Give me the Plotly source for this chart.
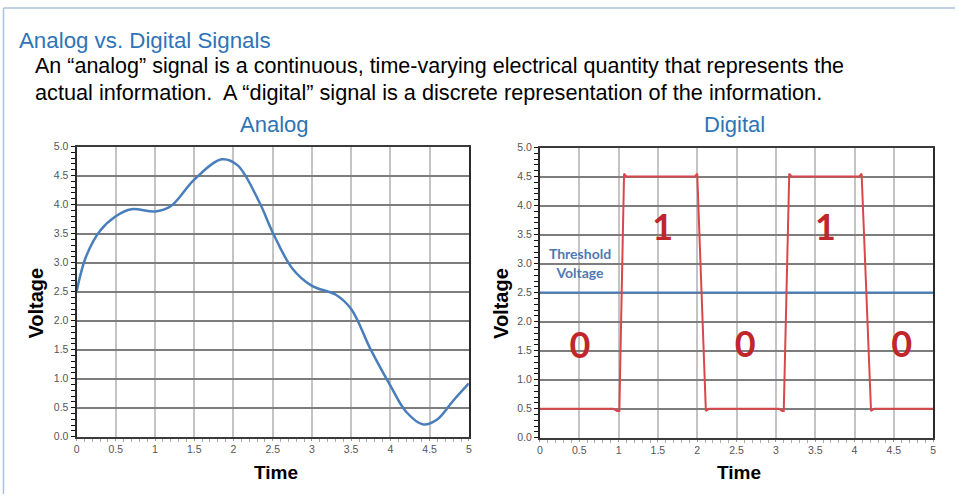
import plotly.graph_objects as go

# ---- data ----
analog_t = [0, 0.12, 0.3, 0.5, 0.7, 1.0, 1.2, 1.5, 1.85, 2.05, 2.33, 2.5, 2.75, 3.0, 3.3, 3.5, 3.75, 4.0, 4.2, 4.42, 4.6, 4.8, 5.0]
analog_v = [2.5, 3.1, 3.55, 3.8, 3.92, 3.88, 3.97, 4.43, 4.78, 4.68, 4.04, 3.52, 2.9, 2.6, 2.45, 2.2, 1.5, 0.88, 0.43, 0.21, 0.3, 0.62, 0.92]

digital_t = [0, 0.93, 0.98, 1.01, 1.07, 1.10, 1.97, 2.0, 2.11, 2.15, 3.04, 3.08, 3.10, 3.17, 3.20, 4.06, 4.09, 4.21, 4.25, 5.0]
digital_v = [0.5, 0.5, 0.46, 0.46, 4.55, 4.5, 4.5, 4.55, 0.46, 0.5, 0.5, 0.46, 0.46, 4.55, 4.5, 4.5, 4.55, 0.46, 0.5, 0.5]

threshold_t = [0, 5]
threshold_v = [2.5, 2.5]

bit_labels = ["0", "1", "0", "1", "0"]
bit_t = [0.51, 1.56, 2.61, 3.63, 4.6]
bit_v = [1.53, 3.57, 1.55, 3.57, 1.55]

threshold_label = ["Threshold", "Voltage"]
threshold_label_t = [0.51, 0.51]
threshold_label_v = [3.14, 2.82]

title_text = "Analog vs. Digital Signals"
body_lines = [
    "An \u201canalog\u201d signal is a continuous, time-varying electrical quantity that represents the",
    "actual information.  A \u201cdigital\u201d signal is a discrete representation of the information.",
]
W, H = 958, 500
# empirical correction from target picture pixels to page pixels
AX, SX, AY, SY = 3.5, 0.993, 6.0, 0.979

fig = go.Figure()
fig.add_trace(go.Scatter(x=analog_t, y=analog_v, mode="lines",
                         line=dict(color="#4a7ebb", width=2.5, shape="spline", smoothing=1.0),
                         xaxis="x", yaxis="y", showlegend=False, hoverinfo="skip"))
fig.add_trace(go.Scatter(x=threshold_t, y=threshold_v, mode="lines", line=dict(color="#4a7ebb", width=2),
                         xaxis="x2", yaxis="y2", showlegend=False, hoverinfo="skip"))
fig.add_trace(go.Scatter(x=digital_t, y=digital_v, mode="lines", line=dict(color="#d9474a", width=2),
                         xaxis="x2", yaxis="y2", showlegend=False, hoverinfo="skip"))
fig.add_trace(go.Scatter(x=bit_t, y=bit_v, mode="text", text=bit_labels,
                         textfont=dict(family="Lato", size=36, color="#c0262b", weight="bold"),
                         xaxis="x2", yaxis="y2", showlegend=False, hoverinfo="skip"))
fig.add_trace(go.Scatter(x=threshold_label_t, y=threshold_label_v, mode="text", text=threshold_label,
                         textfont=dict(family="Lato", size=14, color="#4f79b4", weight="bold"),
                         xaxis="x2", yaxis="y2", showlegend=False, hoverinfo="skip"))

def px(x):
    return min(max(((x - AX) / SX) / W, 0.0), 1.0)

def py(y):
    return min(max(1 - ((y - AY) / SY) / H, 0.0), 1.0)

def xax(domain, anchor):
    return dict(domain=domain, anchor=anchor, range=[0, 5], dtick=0.5, tick0=0,
                showgrid=True, gridcolor="#c4c4c4", gridwidth=1.5,
                showline=True, linecolor="#3a3a3a", linewidth=2, mirror=True,
                ticks="outside", ticklen=2, tickcolor="#999",
                minor=dict(dtick=0.1, ticks="outside", ticklen=3, tickcolor="#aaa", showgrid=False),
                tickfont=dict(family="Arial", size=10.5, color="#555"), zeroline=False, fixedrange=True)

def yax(domain, anchor):
    return dict(domain=domain, anchor=anchor, range=[0, 5], dtick=0.5, tick0=0, tickformat=".1f",
                showgrid=True, gridcolor="#7d7d7d", gridwidth=1.8,
                showline=True, linecolor="#2a2a2a", linewidth=2, mirror=True,
                ticks="outside", ticklen=4, tickcolor="#111",
                minor=dict(dtick=0.1, ticks="outside", ticklen=4, tickcolor="#111", showgrid=False),
                tickfont=dict(family="Arial", size=10.5, color="#555"), zeroline=False, fixedrange=True)

fig.update_layout(
    width=W, height=H, margin=dict(l=0, r=0, t=0, b=0),
    paper_bgcolor="white", plot_bgcolor="white",
    xaxis=xax([px(77), px(469)], "y"),
    yaxis=yax([py(438), py(147)], "x"),
    xaxis2=xax([px(540), px(933)], "y2"),
    yaxis2=yax([py(439), py(148)], "x2"),
)

def ann(text, x, y, size, color="black", bold=False, xanchor="center", angle=0):
    fig.add_annotation(text=("<b>%s</b>" % text) if bold else text, xref="paper", yref="paper",
                       x=px(x), y=py(y), xanchor=xanchor, yanchor="middle", showarrow=False,
                       textangle=angle, font=dict(family="Arial", size=size, color=color))

ann(title_text, 17, 41, 22.3, color="#2e74b5", xanchor="left")
ann(body_lines[0], 33, 66, 21.5, xanchor="left")
ann(body_lines[1], 33, 93, 21.7, xanchor="left")
ann("Analog", 275, 125, 22, color="#2e74b5")
ann("Digital", 734, 125, 22, color="#2e74b5")
ann("Voltage", 37, 304, 20, bold=True, angle=-90)
ann("Voltage", 501, 304, 20, bold=True, angle=-90)
ann("Time", 276, 474, 19, bold=True)
ann("Time", 739, 474, 19, bold=True)

# page frame
fig.add_shape(type="line", xref="paper", yref="paper", x0=px(4), x1=1, y0=py(8), y1=py(8),
              line=dict(color="#a9c3de", width=1.5))
fig.add_shape(type="line", xref="paper", yref="paper", x0=px(4), x1=px(4), y0=0, y1=py(8),
              line=dict(color="#a9c3de", width=1.5))

fig.write_html("out.html", config={"displayModeBar": False},
               post_script="document.body.style.margin='0';")
